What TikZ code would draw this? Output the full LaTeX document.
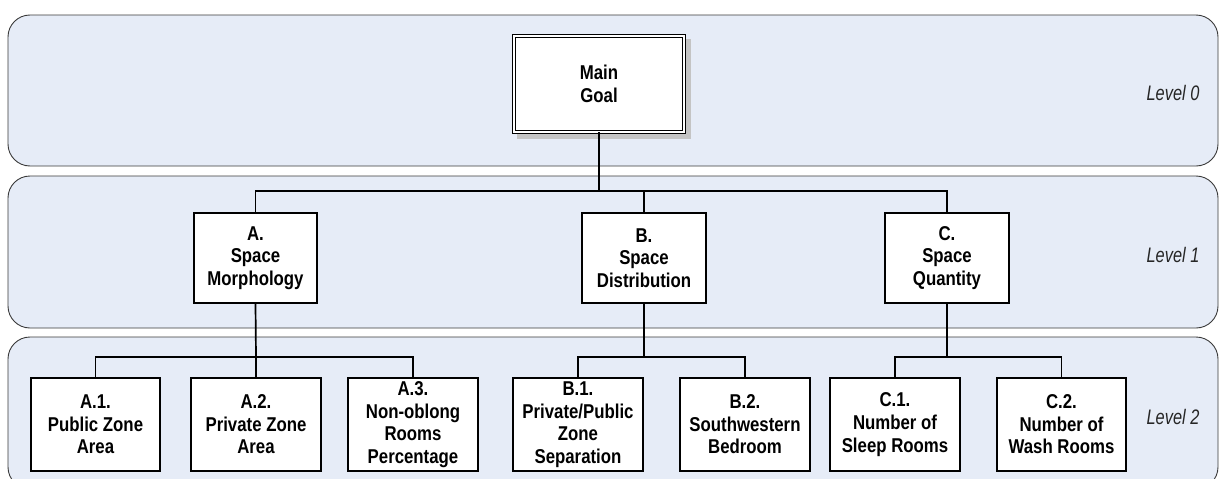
\documentclass[tikz,border=0pt]{standalone}
\usepackage{fontspec}
\setmainfont{Liberation Sans}
\newfontfamily\boxfont[FakeStretch=0.84]{Liberation Sans}
\newfontfamily\levelfont[FakeStretch=0.78]{Liberation Sans}
\usetikzlibrary{calc}
\definecolor{bandfill}{HTML}{E6ECF7}
\definecolor{bandline}{HTML}{3A3A3A}
\definecolor{shadowgray}{HTML}{C4C4C4}
\tikzset{
  band/.style={draw=bandline, line width=0.9pt, fill=bandfill, rounded corners=22pt},
  boxtext/.style={font=\boxfont\bfseries\fontsize{20}{22.6}\selectfont, align=center},
  goalbox/.style={boxtext, draw=black, line width=1.1pt, double=white, double distance=2pt,
    fill=white, minimum width=169.6pt, minimum height=95.6pt, inner sep=0pt},
  critbox/.style={boxtext, draw=black, line width=1.6pt, fill=white,
    minimum width=123.5pt, minimum height=90.5pt, inner sep=1pt},
  subbox/.style={boxtext, draw=black, line width=1.6pt, fill=white,
    minimum width=129.5pt, minimum height=93.5pt, inner sep=1pt},
  link/.style={draw=black, line width=1.7pt},
  leveltext/.style={font=\levelfont\itshape\fontsize{21}{24}\selectfont, text=black!85}
}
\begin{document}
\begin{tikzpicture}[x=1pt, y=-1pt]
\useasboundingbox (0,0) rectangle (1219,479);
\begin{scope}
\clip (0,0) rectangle (1219,479);
% horizontal level bands
\draw[band] (8,15) rectangle (1218,166);
\draw[band] (8,176) rectangle (1218,328);
\draw[band] (8,337) rectangle (1218,489);
\end{scope}

% level captions
\node[leveltext] (lv0) at (1173,93) {Level 0};
\node[leveltext] (lv1) at (1173,255) {Level 1};
\node[leveltext] (lv2) at (1173,417) {Level 2};

% goal with drop shadow
\fill[shadowgray] (517,39) rectangle (691,139);
\node[goalbox] (main) at (599,84) {Main\\Goal};

% criteria
\node[critbox] (A) at (255.5,258) {A.\\Space\\Morphology};
\node[critbox] (B) at (644,258) {B.\\Space\\Distribution};
\node[critbox] (C) at (947,258) {C.\\Space\\Quantity};

% sub-criteria
\node[subbox] (A1) at (95.5,424.5) {A.1.\\Public Zone\\Area};
\node[subbox] (A2) at (256,424.5) {A.2.\\Private Zone\\Area};
\node[subbox] (A3) at (413,424.5) {A.3.\\Non-oblong\\Rooms\\Percentage};
\node[subbox] (B1) at (578,424.5) {B.1.\\Private/Public\\Zone\\Separation};
\node[subbox] (B2) at (745,424.5) {B.2.\\Southwestern\\Bedroom};
\node[subbox] (C1) at (895,424.5) {C.1.\\Number of\\Sleep Rooms};
\node[subbox] (C2) at (1061.5,424.5) {C.2.\\Number of\\Wash Rooms};

% bus junctions
\coordinate (bus0) at (599,191);
\coordinate (busA) at (256,357);
\coordinate (busB) at (644,357);
\coordinate (busC) at (947,357);

% goal to criteria
\draw[link] (main.south) -- (bus0);
\draw[link] (A.north) |- (bus0) -| (C.north);
\draw[link] (B.north) -- (B.north |- bus0);

% criteria to sub-criteria
\draw[link] (A.south) -- (busA);
\draw[link] (A1.north) |- (busA) -| (A3.north);
\draw[link] (A2.north) -- (A2.north |- busA);
\draw[link] (B.south) -- (busB);
\draw[link] (B1.north) |- (busB) -| (B2.north);
\draw[link] (C.south) -- (busC);
\draw[link] (C1.north) |- (busC) -| (C2.north);
\end{tikzpicture}
\end{document}
